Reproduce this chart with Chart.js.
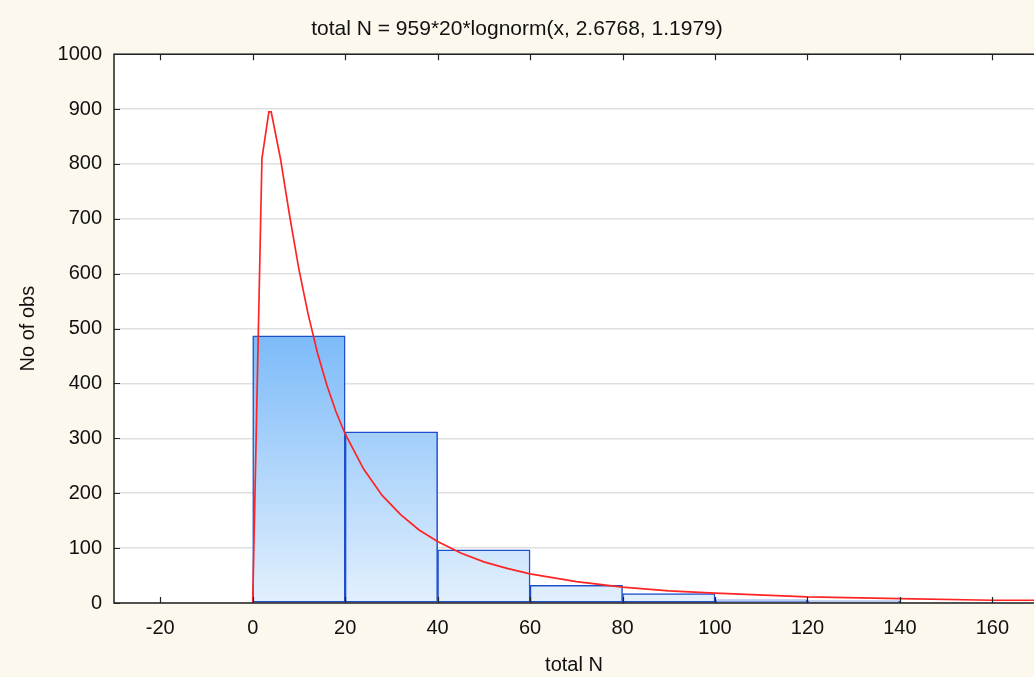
<!DOCTYPE html>
<html>
<head>
<meta charset="utf-8">
<script src="https://cdn.jsdelivr.net/npm/chart.js@4/dist/chart.umd.min.js"></script>
<style>
  body { margin: 0; background: #fdf8ee; overflow: hidden; }
  #myChart { display: block; }
</style>
</head>
<body>
<canvas id="myChart" width="1034" height="677"></canvas>
<script>
// histogram bins (centre of each 20-wide bin) and counts
const binCenters = [10, 30, 50, 70, 90, 110, 130];
const binCounts = [487, 312, 97, 32, 17, 6, 4];

// fitted lognormal curve
const curveX = [0, 2, 3.5, 4, 6, 8, 10, 12, 14, 16, 18, 20, 24, 28, 32, 36, 40, 45, 50, 55, 60, 70, 80, 90, 100, 120, 140, 160, 170];
const curveY = [0, 810, 895, 895, 810, 705, 608, 526, 456, 398, 349, 308, 244, 196, 161, 133, 112, 91, 75, 63, 53, 39, 29, 22, 18, 11, 8, 5, 5];

const xTicks = [-20, 0, 20, 40, 60, 80, 100, 120, 140, 160];
const yTicks = [0, 100, 200, 300, 400, 500, 600, 700, 800, 900, 1000];

const titleText = 'total N = 959*20*lognorm(x, 2.6768, 1.1979)';
const fontFam = '"Liberation Sans", Arial, sans-serif';

function barGradient(ctx) {
  const chart = ctx.chart;
  const y = chart.scales.y;
  if (!chart.chartArea || !y) return '#a8d0f8';
  const g = chart.ctx.createLinearGradient(0, y.getPixelForValue(Math.max(...binCounts)), 0, y.getPixelForValue(0));
  g.addColorStop(0, '#7dbbf9');
  g.addColorStop(1, '#e3f0fd');
  return g;
}

// white plot area, frame and inward tick marks
const framePlugin = {
  id: 'frame',
  beforeDraw(chart) {
    const a = chart.chartArea;
    const c = chart.ctx;
    c.save();
    c.fillStyle = '#ffffff';
    c.fillRect(a.left, a.top, a.right - a.left, a.bottom - a.top);
    c.restore();
  },
  afterDraw(chart) {
    const a = chart.chartArea;
    const c = chart.ctx;
    const xs = chart.scales.x, ys = chart.scales.y;
    c.save();
    c.strokeStyle = '#222';
    c.lineWidth = 1.5;
    c.beginPath();
    c.moveTo(a.right + 2, a.top);
    c.lineTo(a.left, a.top);
    c.lineTo(a.left, a.bottom);
    c.lineTo(a.right + 2, a.bottom);
    c.stroke();
    c.lineWidth = 1.2;
    c.beginPath();
    xTicks.forEach(v => {
      const px = Math.round(xs.getPixelForValue(v)) + 0.5;
      c.moveTo(px, a.bottom); c.lineTo(px, a.bottom - 6);
      c.moveTo(px, a.top); c.lineTo(px, a.top + 6);
    });
    yTicks.forEach(v => {
      const py = Math.round(ys.getPixelForValue(v)) + 0.5;
      c.moveTo(a.left, py); c.lineTo(a.left + 6, py);
    });
    c.stroke();
    c.restore();
  }
};

const data = {
  datasets: [
    {
      type: 'line',
      label: 'lognorm',
      data: curveX.map((x, i) => ({ x: x, y: curveY[i] })),
      borderColor: '#ff2424',
      borderWidth: 1.7,
      pointRadius: 0,
      tension: 0,
      fill: false,
      order: 0
    },
    {
      type: 'bar',
      label: 'No of obs',
      data: binCenters.map((x, i) => ({ x: x, y: binCounts[i] })),
      backgroundColor: barGradient,
      borderColor: '#1d4fcc',
      borderWidth: 1.5,
      borderSkipped: false,
      barPercentage: 1,
      categoryPercentage: 1,
      order: 1
    }
  ]
};

const config = {
  data: data,
  options: {
    responsive: false,
    animation: false,
    layout: { padding: { left: 0, right: 0, top: 0, bottom: 0 } },
    plugins: {
      legend: { display: false },
      tooltip: { enabled: false },
      title: {
        display: true,
        text: titleText,
        color: '#111',
        font: { family: fontFam, size: 21, weight: 'normal' },
        padding: { top: 17, bottom: 12 }
      }
    },
    scales: {
      x: {
        type: 'linear',
        offset: false,
        min: -30,
        max: 169,
        afterBuildTicks: s => { s.ticks = xTicks.map(v => ({ value: v })); },
        afterFit: s => { s.height = 74; },
        grid: { display: false, drawTicks: false, offset: false },
        border: { display: false },
        ticks: {
          color: '#111',
          padding: 13,
          maxRotation: 0,
          autoSkip: false,
          font: { family: fontFam, size: 20 }
        },
        title: {
          display: true,
          text: 'total N',
          color: '#111',
          padding: { top: 6, bottom: 0 },
          font: { family: fontFam, size: 20 }
        }
      },
      y: {
        min: 0,
        max: 1000,
        afterBuildTicks: s => { s.ticks = yTicks.map(v => ({ value: v })); },
        afterFit: s => { s.width = 114; },
        grid: { color: '#dfdfdf', lineWidth: 1.6, drawTicks: false },
        border: { display: false },
        ticks: {
          color: '#111',
          padding: 12,
          callback: v => String(v),
          font: { family: fontFam, size: 20 }
        },
        title: {
          display: true,
          text: 'No of obs',
          color: '#111',
          padding: { top: 16, bottom: 0 },
          font: { family: fontFam, size: 20 }
        }
      }
    }
  },
  plugins: [framePlugin]
};

let myChart = new Chart(document.getElementById('myChart'), config);
</script>
</body>
</html>
